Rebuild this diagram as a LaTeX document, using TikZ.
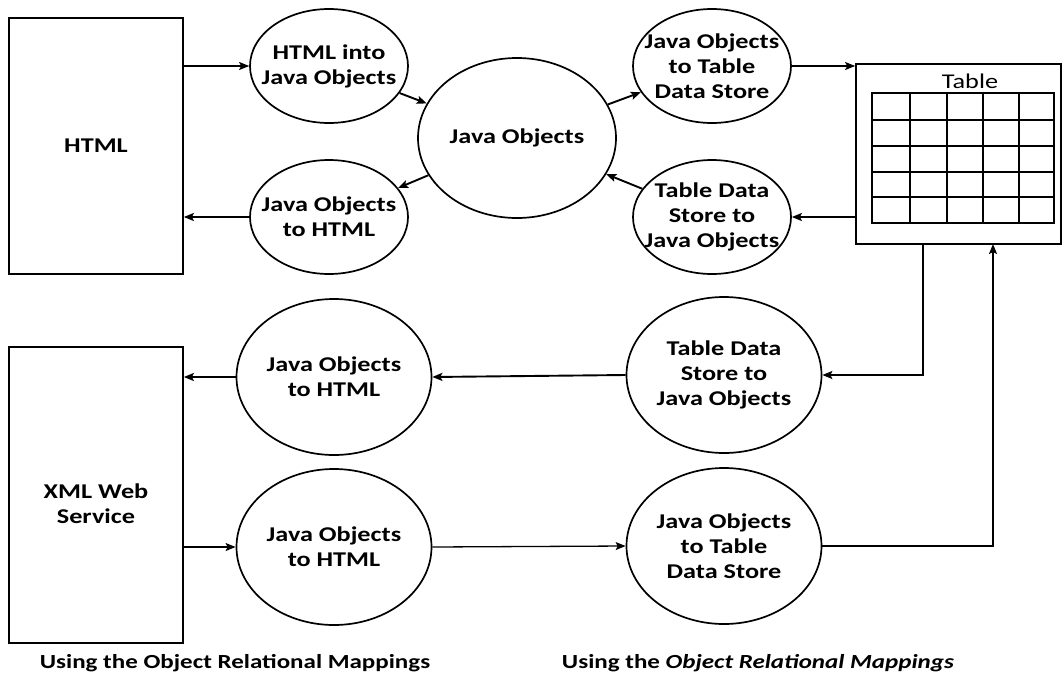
\documentclass[tikz,border=0pt]{standalone}
\usepackage{fontspec}
\setmainfont[FakeStretch=1.25]{Carlito}
\usetikzlibrary{shapes.geometric,arrows.meta}
\begin{document}
\begin{tikzpicture}[x=1pt,y=-1pt,
  txt/.style={font=\fontsize{21}{25}\selectfont\bfseries, align=center, inner sep=0pt},
  lbl/.style={txt},
  box/.style={draw, rectangle, line width=1.7pt, inner sep=0pt, txt},
  elS/.style={ellipse, draw, line width=1.7pt, inner sep=0pt, minimum width=158pt, minimum height=114pt},
  elL/.style={ellipse, draw, line width=1.7pt, inner sep=0pt, minimum width=195pt, minimum height=156pt},
  elJ/.style={ellipse, draw, line width=1.7pt, inner sep=0pt, minimum width=198pt, minimum height=160pt},
  tip/.style={-{Stealth[length=10pt,width=8pt,inset=2pt]}},
  thin/.style={tip, line width=1.3pt},
  thick/.style={tip, line width=1.9pt},
  gridline/.style={line width=2.2pt},
  caption/.style={font=\fontsize{20}{24}\selectfont\bfseries, inner sep=0pt}
]
\useasboundingbox (0,0) rectangle (1063,675);

% boxes
\node[box, minimum width=174pt, minimum height=256pt] (html) at (96,146) {HTML};
\node[box, minimum width=174pt, minimum height=296pt,
      label={[lbl, yshift=-9pt]center:{XML Web\\Service}}] (xml) at (96,495) {};
\node[draw, rectangle, line width=1.7pt, inner sep=0pt, minimum width=205pt, minimum height=180pt] (tbl) at (958.5,154) {};
\node[font=\fontsize{21}{25}\selectfont, inner sep=0pt] (tbltitle) at (970,81) {Table};

% table grid
\foreach \gx in {872,910,947,983,1019,1054}
  \draw[gridline] (\gx,93) -- (\gx,223);
\foreach \gy in {93,120,146,172,197,223}
  \draw[gridline] (872,\gy) -- (1054,\gy);
\draw[line width=2.8pt] (872,93) rectangle (1054,223);

% upper ellipses
\node[elS, label={[lbl]center:{HTML into\\Java Objects}}] (hj) at (329,66) {};
\node[elS, label={[lbl]center:{Java Objects\\to HTML}}] (jh) at (329,217) {};
\node[elJ, label={[lbl]center:{Java Objects}}] (jo) at (517,138) {};
\node[elS, label={[lbl]center:{Java Objects\\to Table\\Data Store}}] (jt) at (712,66) {};
\node[elS, label={[lbl]center:{Table Data\\Store to\\Java Objects}}] (ts) at (712,217) {};

% lower ellipses
\node[elL, label={[lbl]center:{Java Objects\\to HTML}}] (a) at (334,377) {};
\node[elL, label={[lbl]center:{Table Data\\Store to\\Java Objects}}] (b) at (724,375) {};
\node[elL, label={[lbl]center:{Java Objects\\to HTML}}] (c) at (334,547) {};
\node[elL, label={[lbl]center:{Java Objects\\to Table\\Data Store}}] (d) at (724,546) {};

% captions
\node[caption] (cap1) at (235,663) {Using the Object Relational Mappings};
\node[caption] (cap2) at (758,663) {Using the \textit{Object Relational Mappings}};

% coordinates on table bottom
\coordinate (t1) at (923,244);
\coordinate (t2) at (993,244);

% upper connectors
\draw[thin] (hj.west -| html.east) -- (hj.west);
\draw[thick] (hj) -- (jo);
\draw[thick] (jo) -- (jt);
\draw[thin] (jt.east) -- (jt.east -| tbl.west);
\draw[thick] (ts.east -| tbl.west) -- (ts.east);
\draw[thick] (ts) -- (jo);
\draw[thick] (jo) -- (jh);
\draw[thick] (jh.west) -- (jh.west -| html.east);

% lower connectors
\draw[thick] (t1) |- (b.east);
\draw[thick] (b.west) -- (a.east);
\draw[thick] (a.west) -- (a.west -| xml.east);
\draw[thin] (c.west -| xml.east) -- (c.west);
\draw[thin] (c.east) -- (d.west);
\draw[thick] (d.east) -| (t2);
\end{tikzpicture}
\end{document}
